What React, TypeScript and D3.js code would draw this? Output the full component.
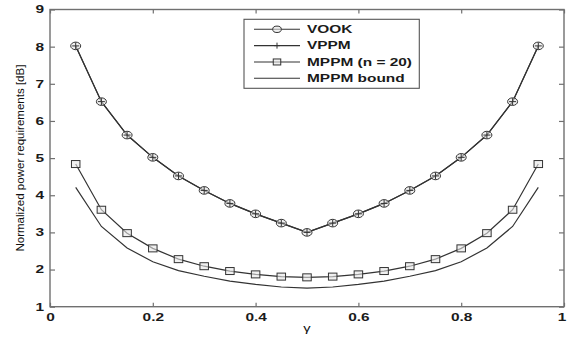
import { useEffect, useRef } from "react";
import * as d3 from "d3";

// values (gamma = dimming level)
const gamma = [0.05, 0.1, 0.15, 0.2, 0.25, 0.3, 0.35, 0.4, 0.45, 0.5, 0.55, 0.6, 0.65, 0.7, 0.75, 0.8, 0.85, 0.9, 0.95];
const vook = [8.02, 6.52, 5.62, 5.02, 4.52, 4.13, 3.78, 3.5, 3.25, 3.0, 3.25, 3.5, 3.78, 4.13, 4.52, 5.02, 5.62, 6.52, 8.02];
const vppm = [8.02, 6.52, 5.62, 5.02, 4.52, 4.13, 3.78, 3.5, 3.25, 3.0, 3.25, 3.5, 3.78, 4.13, 4.52, 5.02, 5.62, 6.52, 8.02];
const mppm = [4.84, 3.61, 2.98, 2.57, 2.28, 2.09, 1.96, 1.87, 1.81, 1.79, 1.81, 1.87, 1.96, 2.09, 2.28, 2.57, 2.98, 3.61, 4.84];
const mppmBound = [4.21, 3.16, 2.58, 2.21, 1.97, 1.82, 1.69, 1.6, 1.53, 1.5, 1.53, 1.6, 1.69, 1.82, 1.97, 2.21, 2.58, 3.16, 4.21];

const xTicks = [0, 0.2, 0.4, 0.6, 0.8, 1];
const yTicks = [1, 2, 3, 4, 5, 6, 7, 8, 9];
const legendLabels = ["VOOK", "VPPM", "MPPM (n = 20)", "MPPM bound"];

const App = () => {
  const svgRef = useRef<SVGSVGElement>(null);

  useEffect(() => {
    const marginLeft = 50;
    const plotRight = 564;
    const marginTop = 9.5;
    const plotBottom = 306.7;
    const stretch = 1.47; // the original picture is stretched sideways
    const font = '"Liberation Sans", Arial, sans-serif';
    const ink = "#333";
    const axisColor = "#707070";

    const svg = d3.select(svgRef.current);
    svg.selectAll("*").remove();

    const x = d3.scaleLinear().domain([0, 1]).range([marginLeft, plotRight]);
    const y = d3.scaleLinear().domain([1, 9]).range([plotBottom, marginTop]);

    const styleAxis = (g: any, labels: boolean) => {
      g.select(".domain").remove();
      g.attr("font-family", font).attr("font-size", 10.5).attr("font-weight", "bold");
      g.selectAll("line").attr("stroke", axisColor).attr("stroke-width", 1.2);
      if (labels) {
        g.selectAll("text").attr("fill", "#1a1a1a").attr("transform", `scale(${stretch},1)`);
      } else {
        g.selectAll("text").remove();
      }
    };

    svg.append("g")
      .attr("transform", `translate(0,${plotBottom})`)
      .call(d3.axisBottom(x).tickValues(xTicks).tickSizeInner(-4).tickSizeOuter(0).tickPadding(7).tickFormat(d3.format("~g")))
      .call(g => styleAxis(g, true))
      // keep the last label inside the page
      .call(g => g.select(".tick:last-of-type text").attr("dx", -1.6));

    svg.append("g")
      .attr("transform", `translate(0,${marginTop})`)
      .call(d3.axisTop(x).tickValues(xTicks).tickSizeInner(-4).tickSizeOuter(0))
      .call(g => styleAxis(g, false));

    svg.append("g")
      .attr("transform", `translate(${marginLeft},0)`)
      .call(d3.axisLeft(y).tickValues(yTicks).tickSizeInner(-5).tickSizeOuter(0).tickPadding(4).tickFormat(d3.format("d")))
      .call(g => styleAxis(g, true));

    svg.append("g")
      .attr("transform", `translate(${plotRight},0)`)
      .call(d3.axisRight(y).tickValues(yTicks).tickSizeInner(-5).tickSizeOuter(0))
      .call(g => styleAxis(g, false));

    svg.append("rect")
      .attr("x", marginLeft)
      .attr("y", marginTop)
      .attr("width", plotRight - marginLeft)
      .attr("height", plotBottom - marginTop)
      .attr("fill", "none")
      .attr("stroke", axisColor)
      .attr("stroke-width", 1.4);

    const line = d3.line<number>()
      .x((_, i) => x(gamma[i]))
      .y(d => y(d));

    const drawCircle = (g: any, cx: number, cy: number, rx: number, ry: number) =>
      g.append("ellipse").attr("cx", cx).attr("cy", cy).attr("rx", rx).attr("ry", ry)
        .attr("fill", "#e6e6e6").attr("fill-opacity", 0.6).attr("stroke", ink).attr("stroke-width", 1);
    const drawPlus = (g: any, cx: number, cy: number, s: number) =>
      g.append("path").attr("d", `M${cx - s},${cy}H${cx + s}M${cx},${cy - s}V${cy + s}`)
        .attr("stroke", ink).attr("stroke-width", 1).attr("fill", "none");
    const drawSquare = (g: any, cx: number, cy: number, w: number, h: number) =>
      g.append("rect").attr("x", cx - w / 2).attr("y", cy - h / 2).attr("width", w).attr("height", h)
        .attr("fill", "#e6e6e6").attr("fill-opacity", 0.6).attr("stroke", ink).attr("stroke-width", 1);

    const plot = svg.append("g");

    [vook, vppm, mppm, mppmBound].forEach(series => {
      plot.append("path")
        .datum(series)
        .attr("fill", "none")
        .attr("stroke", ink)
        .attr("stroke-width", 1.2)
        .attr("d", line);
    });

    vook.forEach((v, i) => drawCircle(plot, x(gamma[i]), y(v), 5, 3.8));
    vppm.forEach((v, i) => drawPlus(plot, x(gamma[i]), y(v), 3.5));
    mppm.forEach((v, i) => drawSquare(plot, x(gamma[i]), y(v), 8.5, 7));

    // legend
    const legend = svg.append("g");
    legend.append("rect")
      .attr("x", 244).attr("y", 19.3).attr("width", 175.3).attr("height", 69)
      .attr("fill", "#fff").attr("stroke", "#555").attr("stroke-width", 1.1);

    const rowY = d3.scaleLinear().domain([0, 3]).range([29.3, 78.3]);
    legendLabels.forEach((label, i) => {
      const ry = rowY(i);
      legend.append("line")
        .attr("x1", 254).attr("x2", 300).attr("y1", ry).attr("y2", ry)
        .attr("stroke", ink).attr("stroke-width", 1.1);
      if (i === 0) drawCircle(legend, 277, ry, 4.3, 3.2);
      if (i === 1) drawPlus(legend, 277, ry, 3);
      if (i === 2) drawSquare(legend, 277, ry, 7.5, 6);
      legend.append("text")
        .attr("transform", `translate(307,${ry + 3.8}) scale(${stretch},1)`)
        .attr("font-family", font)
        .attr("font-size", 10.5)
        .attr("font-weight", "bold")
        .attr("fill", "#1a1a1a")
        .text(label);
    });

    // axis titles
    svg.append("text")
      .attr("transform", `translate(307,332) scale(${stretch},1)`)
      .attr("text-anchor", "middle")
      .attr("font-family", font)
      .attr("font-size", 10)
      .attr("fill", "#111")
      .text("γ");

    svg.append("text")
      .attr("transform", `translate(23.5,${(marginTop + plotBottom) / 2}) rotate(-90)`)
      .attr("text-anchor", "middle")
      .attr("font-family", font)
      .attr("font-size", 11.5)
      .attr("textLength", 187)
      .attr("lengthAdjust", "spacingAndGlyphs")
      .attr("fill", "#111")
      .text("Normalized power requirements [dB]");
  }, []);

  return (
    <svg
      ref={svgRef}
      width={567}
      height={337}
      style={{ position: "absolute", left: 0, top: 0, background: "#fff" }}
    />
  );
};

export default App;
